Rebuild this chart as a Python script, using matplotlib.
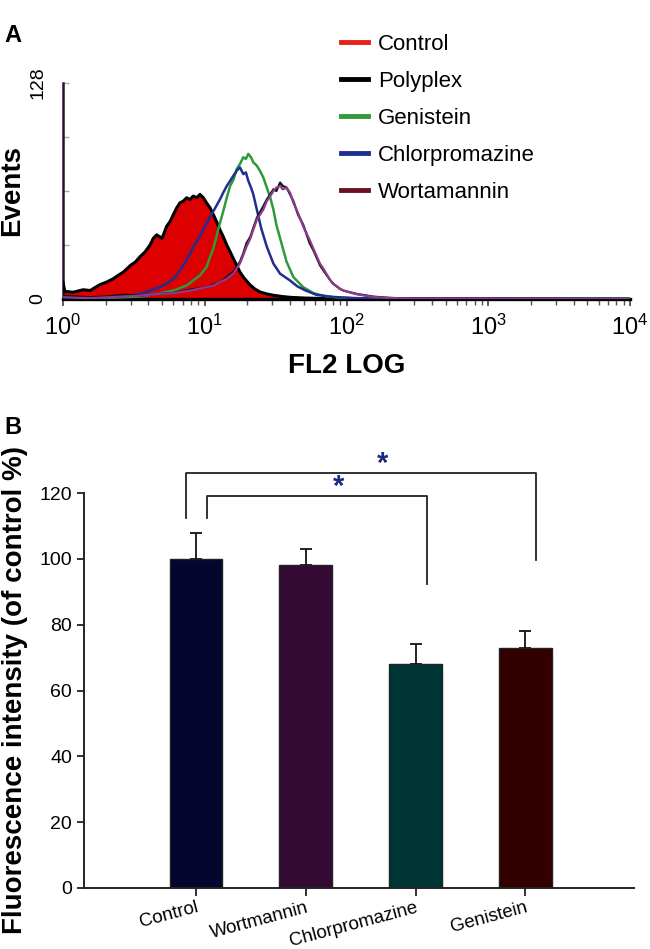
import matplotlib
matplotlib.use("Agg")
import matplotlib.pyplot as plt
from matplotlib.lines import Line2D
from matplotlib.ticker import LogLocator, NullFormatter
import numpy as np

plt.rcParams['font.family'] = ['Liberation Sans', 'DejaVu Sans']
plt.rcParams['mathtext.default'] = 'regular'

# ---------------- Panel A data (FL2 channel vs events) ----------------
control_x = [1.0, 1.03, 1.18, 1.39, 1.55, 1.82, 2.03, 2.26, 2.45, 2.67, 3.0, 3.25, 3.49, 3.8, 4.11,
             4.34, 4.58, 5.0, 5.38, 5.7, 6.0, 6.34, 6.68, 7.06, 7.45, 7.87, 8.3, 8.8, 9.25, 9.77,
             10.3, 10.9, 11.5, 12.1, 12.8, 13.5, 14.3, 15.1, 15.9, 16.8, 17.7, 18.7, 20.8, 22.5,
             24.5, 27.4, 30.5, 35.0, 40.0, 50.0, 60.0, 80.0, 100.0, 10000.0]
control_y = [10, 4.5, 4.0, 5.5, 5.0, 8.5, 10, 12, 14, 16, 20, 22, 25, 28, 32,
             36, 38, 36, 43, 46, 50, 54, 57, 58, 60, 59, 61, 60, 62, 60,
             57, 54, 50, 46, 41, 37, 32, 28, 24, 20, 16, 13, 8.5, 6,
             4.2, 3.0, 2.2, 1.5, 1.0, 0.6, 0.4, 0.2, 0.1, 0.0]

polyplex_x = [1.0, 1.55, 2.03, 2.67, 3.49, 4.58, 6.0, 7.87, 10.3, 11.5, 12.8, 14.3, 15.9, 17.7,
              18.7, 19.7, 21.0, 22.0, 23.3, 25.9, 27.4, 29.0, 30.5, 32.0, 34.0, 35.5, 37.8, 40.0,
              42.2, 45.5, 49.5, 55.0, 58.3, 65.0, 68.7, 77.0, 80.7, 90.0, 95.1, 118.0, 155.0,
              200.0, 266.0, 10000.0]
polyplex_y = [2.0, 1.0, 1.5, 2.5, 2.0, 3.0, 3.5, 5.5, 7.0, 8.5, 10, 13, 16, 22,
              27, 33, 37, 42, 48, 55, 59, 62, 65, 64, 69, 67, 66, 62,
              58, 50, 44, 33, 29, 20, 17, 11, 9, 6, 5, 3.0, 1.4,
              0.7, 0.3, 0.0]

genistein_x = [1.55, 2.67, 3.49, 4.58, 6.0, 7.45, 8.3, 9.25, 10.3, 10.9, 11.5, 12.1, 12.8, 13.5,
               14.3, 15.1, 16.0, 16.8, 17.7, 18.7, 19.5, 20.3, 21.2, 22.0, 23.3, 24.5, 25.9,
               27.4, 29.0, 30.5, 32.0, 34.0, 37.8, 42.2, 49.5, 58.3, 72.4, 90.0, 120.0, 200.0,
               10000.0]
genistein_y = [0.5, 1.0, 1.5, 3.0, 5.0, 8.0, 11, 14, 19, 25, 30, 37, 45, 52,
               60, 67, 71, 77, 80, 84, 83, 86, 84, 81, 79, 76, 72,
               66, 60, 53, 44, 36, 22, 13, 7, 3.5, 1.5, 0.8, 0.3, 0.1,
               0.0]

chlorpromazine_x = [1.55, 2.67, 3.49, 4.11, 4.8, 5.38, 6.0, 6.68, 7.45, 8.3, 9.25, 10.3, 11.5, 12.8,
                    13.5, 14.3, 15.1, 15.9, 16.8, 17.7, 18.7, 19.5, 20.3, 21.2, 22.0, 23.3, 25.0,
                    27.4, 30.5, 34.0, 39.9, 45.0, 51.5, 61.7, 80.7, 118.0, 200.0, 10000.0]
chlorpromazine_y = [0.8, 1.5, 3.0, 5.0, 7.0, 9.0, 12, 17, 23, 31, 37, 45, 52, 59,
                    63, 67, 70, 73, 76, 78, 74, 75, 70, 66, 62, 53, 42,
                    31, 21, 15, 11, 7.5, 5.0, 2.4, 1.2, 0.5, 0.2, 0.0]

wortmannin_x = [1.0, 1.55, 2.03, 3.49, 4.58, 6.0, 7.87, 10.3, 11.5, 12.8, 14.3, 15.9, 17.7, 18.7,
                19.7, 21.0, 22.0, 23.3, 25.9, 27.4, 29.0, 30.5, 32.0, 34.0, 35.5, 37.8, 40.0,
                42.2, 45.5, 49.5, 55.0, 58.3, 65.0, 68.7, 77.0, 80.7, 90.0, 95.1, 118.0, 155.0,
                200.0, 266.0, 10000.0]
wortmannin_y = [1.0, 0.5, 1.0, 2.0, 3.0, 3.4, 5.0, 7.0, 8.0, 10, 12, 15, 21, 26,
                31, 36, 41, 47, 53, 58, 61, 64, 66, 67, 65, 66, 63,
                57, 51, 43, 35, 30, 21, 18, 11, 9, 6, 5, 2.8, 1.2,
                0.6, 0.3, 0.0]

legend_labels = ['Control', 'Polyplex', 'Genistein', 'Chlorpromazine', 'Wortamannin']
legend_colors = ['#e8201c', '#000000', '#2e9a3c', '#1f2f8f', '#6a1024']

# ---------------- Panel B data ----------------
categories = ['Control', 'Wortmannin', 'Chlorpromazine', 'Genistein']
means = [100, 98, 68, 73]
errors = [8, 5, 6, 5]
bar_colors = ['#05062e', '#330a33', '#003535', '#330000']
# significance brackets: (left x, right x, height, left drop, right drop, star x)
brackets = [(-0.09, 3.10, 126, 112.5, 99.5, 1.70), (0.10, 2.10, 119, 112.5, 92.5, 1.30)]

W, H = 650, 949
fig = plt.figure(figsize=(W / 100, H / 100), dpi=100)

# ---------------- Panel A ----------------
axA = fig.add_axes([63 / W, 1 - 299 / H, 567 / W, 216 / H])
axA.fill_between(control_x, control_y, 0, color='#dc0000', lw=0, zorder=2)
axA.plot(control_x, control_y, color='#000000', lw=2.2, zorder=3)
axA.plot(genistein_x, genistein_y, color='#2e9a3c', lw=1.8, zorder=4)
axA.plot(chlorpromazine_x, chlorpromazine_y, color='#1f2f8f', lw=1.8, zorder=5)
axA.plot(polyplex_x, polyplex_y, color='#111111', lw=1.6, zorder=5)
axA.plot(wortmannin_x, wortmannin_y, color='#8e3a8e', lw=1.6, zorder=6)

axA.set_xscale('log')
axA.set_xlim(1, 1e4)
axA.set_ylim(0, 128)
for s in ['top', 'right']:
    axA.spines[s].set_visible(False)
axA.spines['bottom'].set_linewidth(2.4)
axA.spines['bottom'].set_color('#000000')
axA.spines['left'].set_linewidth(1.8)
axA.spines['left'].set_color('#2a1030')
axA.set_xticks([1, 10, 100, 1000, 10000])
axA.set_xticklabels([r'$\mathregular{10^{%d}}$' % k for k in range(5)], fontsize=17)
axA.xaxis.set_minor_locator(LogLocator(base=10, subs=np.arange(2, 10)))
axA.xaxis.set_minor_formatter(NullFormatter())
axA.tick_params(axis='x', which='major', direction='out', length=5, width=1.2, pad=6, color='#444444')
axA.tick_params(axis='x', which='minor', direction='out', length=4, width=1.0, color='#555555')
axA.set_yticks([0, 32, 64, 96, 128])
axA.set_yticklabels(['0', '', '', '', '128'], rotation=90, va='center', fontsize=14)
axA.tick_params(axis='y', direction='in', length=4, width=1, color='#aaaaaa', pad=12)
axA.set_xlabel('FL2 LOG', fontsize=20, fontweight='bold', labelpad=10)
axA.set_ylabel('Events', fontsize=20, fontweight='bold')
axA.yaxis.set_label_coords(-38 / 567, 0.5)

handles = [Line2D([], [], color=c, lw=3.5) for c in legend_colors]
fig.legend(handles, legend_labels, loc='upper left', bbox_to_anchor=(341 / W, 1 - 34 / H),
           frameon=False, fontsize=16, handlelength=1.2, handletextpad=0.45,
           labelspacing=0.72, borderpad=0, borderaxespad=0)

fig.text(4 / W, 1 - 35 / H, 'A', fontsize=17, fontweight='bold', va='center', ha='left')
fig.text(4 / W, 1 - 428 / H, 'B', fontsize=17, fontweight='bold', va='center', ha='left')

# ---------------- Panel B ----------------
axB = fig.add_axes([84 / W, 1 - 888 / H, 550 / W, 395 / H])
xpos = np.arange(len(categories))
axB.bar(xpos, means, width=0.48, color=bar_colors, edgecolor='#222222', linewidth=1.0, zorder=2)
axB.errorbar(xpos, means, yerr=[np.zeros(len(errors)), errors], fmt='none', ecolor='#111111',
             elinewidth=1.3, capsize=4.5, capthick=1.3, zorder=1)
axB.set_xlim(-1.02, 3.99)
axB.set_ylim(0, 120)
for s in ['top', 'right']:
    axB.spines[s].set_visible(False)
for s in ['left', 'bottom']:
    axB.spines[s].set_linewidth(1.4)
    axB.spines[s].set_color('#222222')
axB.set_yticks(np.arange(0, 121, 20))
axB.tick_params(axis='y', labelsize=14, length=5, width=1.3, color='#222222')
axB.set_xticks(xpos)
axB.set_xticklabels(categories, rotation=15, ha='right', rotation_mode='anchor', fontsize=13.5)
axB.tick_params(axis='x', length=6, width=1.3, color='#222222', pad=2)
axB.set_ylabel('Fluorescence intensity (of control %)', fontsize=20, fontweight='bold')
axB.yaxis.set_label_coords(-56 / 550, 0.5)

for xl, xr, h, dl, dr, star_x in brackets:
    axB.plot([xl, xl, xr, xr], [dl, h, h, dr], color='#222222', lw=1.3, clip_on=False, zorder=3)
    axB.text(star_x, h - 1.5, '*', color='#1a2a80', fontsize=21, fontweight='bold',
             ha='center', va='bottom', clip_on=False)

fig.savefig('out.png', dpi=100)
